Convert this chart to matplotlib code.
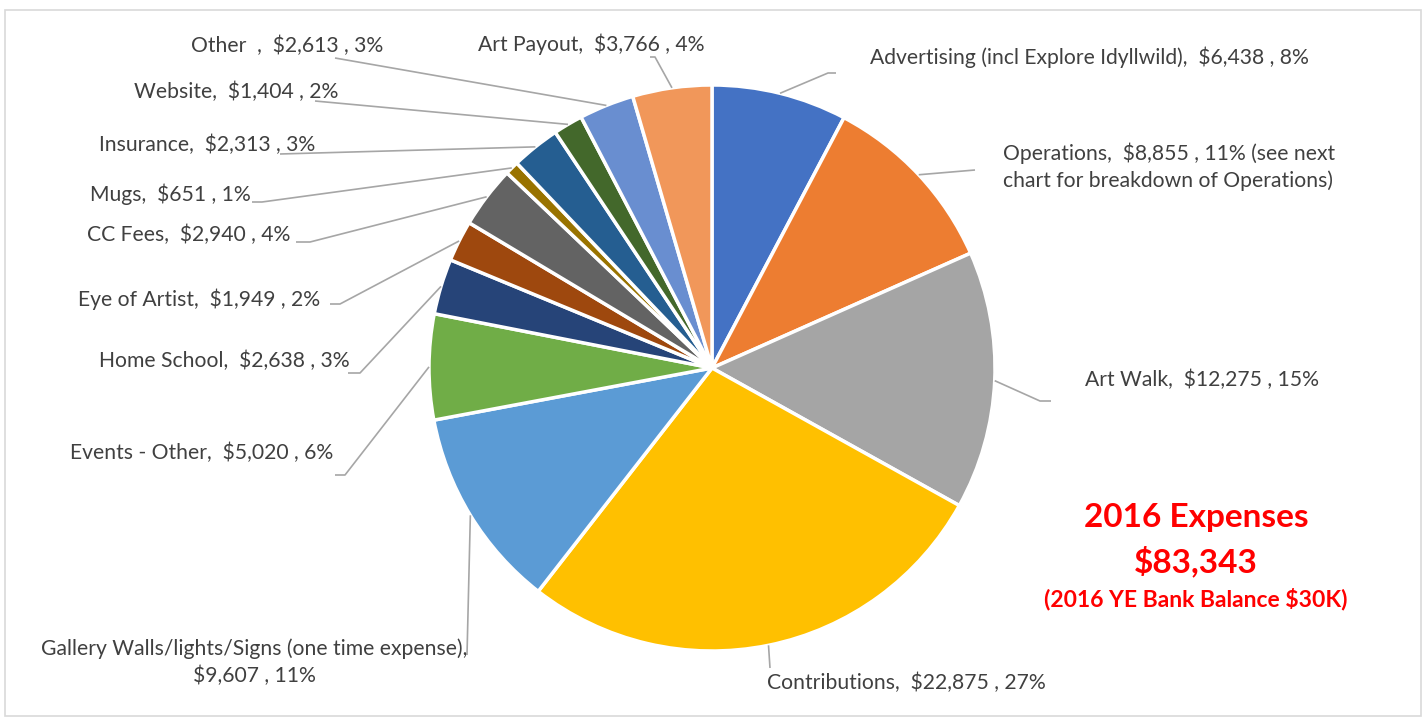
import numpy as np
import matplotlib
matplotlib.use("Agg")
import matplotlib.pyplot as plt
from matplotlib.patches import Rectangle

W, H = 1427, 721

# ── data ─────────────────────────────────────────────────────────────
names = ["Advertising (incl Explore Idyllwild)", "Operations", "Art Walk", "Contributions",
         "Gallery Walls/lights/Signs (one time expense)", "Events - Other", "Home School",
         "Eye of Artist", "CC Fees", "Mugs", "Insurance", "Website", "Other  ", "Art Payout"]
amounts = [6438, 8855, 12275, 22875, 9607, 5020, 2638, 1949, 2940, 651, 2313, 1404, 2613, 3766]
percents = [8, 11, 15, 27, 11, 6, 3, 2, 4, 1, 3, 2, 3, 4]
colors = ["#4472C4", "#ED7D31", "#A5A5A5", "#FFC000", "#5B9BD5", "#70AD47", "#264478",
          "#9E480E", "#636363", "#997300", "#255E91", "#43682B", "#698ED0", "#F1975A"]
total_text = "$83,343"

# label layout (pixel coords, y down): text anchor x, y, alignment, leader elbow points
label_layout = [
    (870, 57, "left", [(828, 73), (836, 73)]),
    (1003, 167, "left", [(975, 170)]),
    (1085, 380, "left", [(1040, 401), (1051, 401)]),
    (767, 683, "left", [(770, 668)]),
    (254, 662, "center", [(467, 655)]),
    (333, 453, "right", [(345, 475), (335, 475)]),
    (350, 361, "right", [(360, 373), (348, 373)]),
    (320, 299, "right", [(340, 304), (330, 304)]),
    (290, 235, "right", [(310, 242), (296, 242)]),
    (251, 194, "right", [(262, 202), (252, 202)]),
    (315, 145, "right", [(280, 154)]),
    (338, 92, "right", [(315, 101)]),
    (383, 46, "right", [(335, 58)]),
    (705, 44, "right", [(655, 57), (650, 57)]),
]

plt.rcParams["font.family"] = ["Lato", "DejaVu Sans"]

fig = plt.figure(figsize=(W / 100, H / 100), dpi=100)
ax = fig.add_axes([0, 0, 1, 1])


def P(x, y):
    return x, H - y


cx, cy = P(712, 368)
radius = 283
wedges, _ = ax.pie(amounts, colors=colors, startangle=90, counterclock=False,
                   center=(cx, cy), radius=radius,
                   wedgeprops=dict(edgecolor="white", linewidth=2.5))
ax.set_xlim(0, W)
ax.set_ylim(0, H)
ax.set_aspect("auto")
ax.axis("off")

text_color = "#404040"
line_color = "#A6A6A6"
for i, (w, (tx, ty, ha, elbow)) in enumerate(zip(wedges, label_layout)):
    mid = np.deg2rad((w.theta1 + w.theta2) / 2)
    sx, sy = cx + radius * np.cos(mid), cy + radius * np.sin(mid)
    xs = [sx] + [P(*p)[0] for p in elbow]
    ys = [sy] + [P(*p)[1] for p in elbow]
    ax.plot(xs, ys, color=line_color, lw=1.2, solid_capstyle="butt")

    name = names[i]
    txt = f"{name},  ${amounts[i]:,} , {percents[i]}%"
    if i == 1:
        txt = f"{name},  ${amounts[i]:,} , {percents[i]}% (see next\nchart for breakdown of Operations)"
    elif i == 4:
        txt = f"{name},\n${amounts[i]:,} , {percents[i]}%"
    px, py = P(tx, ty)
    ax.text(px, py, txt, ha=ha, va="center", fontsize=15.2, color=text_color,
            multialignment="center" if i == 4 else "left", linespacing=1.4)

# annotation
red = "#FF0000"
ax.text(*P(1196, 517), "2016 Expenses", ha="center", va="center", fontsize=24,
        fontweight="bold", color=red)
ax.text(*P(1196, 561), total_text, ha="center", va="center", fontsize=24,
        fontweight="bold", color=red)
ax.text(*P(1196, 599), "(2016 YE Bank Balance $30K)", ha="center", va="center",
        fontsize=16.5, fontweight="bold", color=red)

fig.patches.append(Rectangle((5 / W, 5 / H), 1416 / W, 706 / H, transform=fig.transFigure,
                             fill=False, edgecolor="#D9D9D9", lw=1.2))

fig.savefig("out.png", dpi=100, facecolor="white")
